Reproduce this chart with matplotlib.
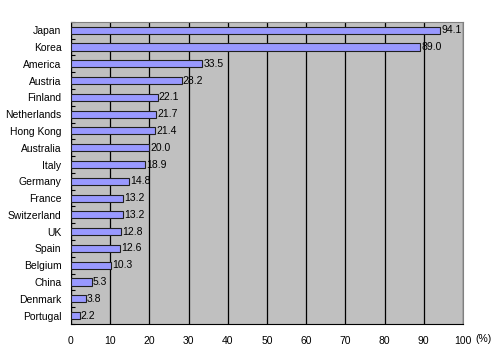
import numpy as np
from matplotlib import pyplot as plt

countries = ['Japan', 'Korea', 'America', 'Austria', 'Finland', 'Netherlands',
             'Hong Kong', 'Australia', 'Italy', 'Germany', 'France', 'Switzerland',
             'UK', 'Spain', 'Belgium', 'China', 'Denmark', 'Portugal']
values = [94.1, 89.0, 33.5, 28.2, 22.1, 21.7, 21.4, 20.0, 18.9, 14.8,
          13.2, 13.2, 12.8, 12.6, 10.3, 5.3, 3.8, 2.2]
xticks = list(range(0, 101, 10))

plt.rcParams['font.family'] = ['Liberation Sans', 'DejaVu Sans']

fig = plt.figure(figsize=(5, 3.64), dpi=100)
ax = fig.add_axes([0.142, 0.110, 0.784, 0.830])
ax.set_facecolor('#c0c0c0')

y = np.arange(len(countries))
ax.barh(y, values, height=0.42, color='#9999ff', edgecolor='#202020',
        linewidth=0.8, zorder=3)
for yi, v in zip(y, values):
    ax.text(v + 0.3, yi, '%.1f' % v, va='center', ha='left', fontsize=7.5, zorder=4)

ax.set_xlim(0, 100)
ax.set_ylim(len(countries) - 0.5, -0.5)
ax.set_xticks(xticks)
ax.set_xticklabels([str(t) for t in xticks], fontsize=7.5)
ax.tick_params(axis='x', length=0, pad=9)
ax.xaxis.grid(True, color='black', linewidth=0.9, zorder=1)
ax.set_axisbelow(True)

ax.set_yticks(y)
ax.set_yticklabels(countries, fontsize=7.5)
ax.tick_params(axis='y', which='major', length=0, pad=7)
ax.set_yticks(np.arange(-0.5, len(countries), 1), minor=True)
ax.tick_params(axis='y', which='minor', direction='in', length=3, width=0.8)

for s in ['top', 'right']:
    ax.spines[s].set_color('#808080')
for s in ['left', 'bottom']:
    ax.spines[s].set_color('black')

fig.text(0.968, 0.069, '(%)', fontsize=7.5, ha='center', va='center')

fig.savefig('out.png', dpi=100)
